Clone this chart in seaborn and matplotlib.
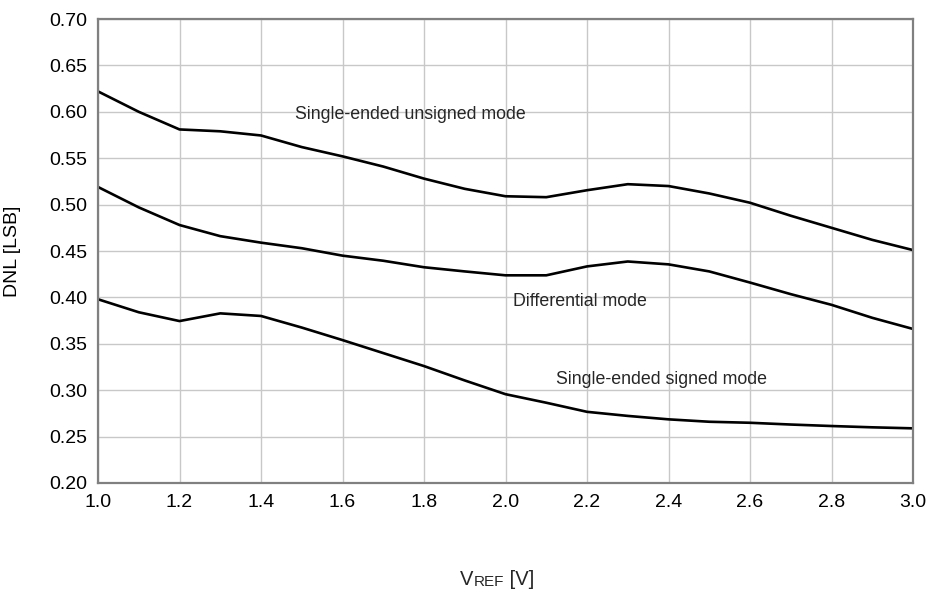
import numpy as np
import pandas as pd
import matplotlib
matplotlib.use("Agg")
import matplotlib.pyplot as plt
import seaborn as sns

vref = [1.0, 1.1, 1.2, 1.3, 1.4, 1.5, 1.6, 1.7, 1.8, 1.9, 2.0,
        2.1, 2.2, 2.3, 2.4, 2.5, 2.6, 2.7, 2.8, 2.9, 3.0]
unsigned_mode = [0.622, 0.600, 0.581, 0.579, 0.5745, 0.562, 0.552, 0.541, 0.528, 0.517, 0.509,
                 0.508, 0.5155, 0.522, 0.520, 0.512, 0.502, 0.488, 0.475, 0.462, 0.451]
differential_mode = [0.519, 0.497, 0.478, 0.466, 0.459, 0.453, 0.445, 0.4395, 0.4325, 0.428, 0.4238,
                     0.4238, 0.4334, 0.4387, 0.4356, 0.428, 0.416, 0.4035, 0.392, 0.378, 0.366]
signed_mode = [0.398, 0.384, 0.3745, 0.3828, 0.380, 0.3675, 0.354, 0.340, 0.326, 0.3105, 0.2957,
               0.2865, 0.2767, 0.2723, 0.2686, 0.266, 0.2649, 0.263, 0.2614, 0.260, 0.2589]
series_names = ["Single-ended unsigned mode", "Differential mode", "Single-ended signed mode"]
x_ticks = [1.0, 1.2, 1.4, 1.6, 1.8, 2.0, 2.2, 2.4, 2.6, 2.8, 3.0]
y_ticks = [0.20, 0.25, 0.30, 0.35, 0.40, 0.45, 0.50, 0.55, 0.60, 0.65, 0.70]

df = pd.DataFrame({
    "VREF": vref * 3,
    "DNL": unsigned_mode + differential_mode + signed_mode,
    "mode": [series_names[0]] * len(vref) + [series_names[1]] * len(vref) + [series_names[2]] * len(vref),
})

sns.set_theme(style="whitegrid")
plt.rcParams["font.family"] = ["Liberation Sans", "DejaVu Sans"]

fig = plt.figure(figsize=(9.29, 5.96), dpi=100)
ax = fig.add_axes([0.1055, 0.1896, 0.8773, 0.7785])

sns.lineplot(data=df, x="VREF", y="DNL", hue="mode",
             palette=["black", "black", "black"], linewidth=1.9,
             legend=False, ax=ax, sort=False)

ax.set_xlim(1.0, 3.0)
ax.set_ylim(0.20, 0.70)
ax.set_xticks(x_ticks)
ax.set_xticklabels([f"{v:.1f}" for v in x_ticks])
ax.set_yticks(y_ticks)
ax.set_yticklabels([f"{v:.2f}" for v in y_ticks])
ax.tick_params(axis="both", labelsize=14, length=0, pad=8, colors="black")
ax.grid(True, color="#c8c8c8", linewidth=1.0)
for s in ax.spines.values():
    s.set_visible(True)
    s.set_color("#808080")
    s.set_linewidth(1.6)
ax.set_facecolor("white")

ax.set_xlabel("")
ax.set_ylabel("")
fig.text(13 / 929, 1 - 251 / 596, "DNL [LSB]", fontsize=14, rotation=90,
         va="center", ha="center", color="black")

ax.text(1.483, 0.597, series_names[0], fontsize=12.8, va="center", ha="left")
ax.text(2.018, 0.396, series_names[1], fontsize=12.8, va="center", ha="left")
ax.text(2.124, 0.312, series_names[2], fontsize=12.8, va="center", ha="left")

# x label: V with small-caps REF
t1 = fig.text(460 / 929, 1 - 589 / 596, "V", fontsize=14.5, va="bottom", ha="left")
t2 = ax.annotate("REF", xy=(1, 0), xycoords=t1, fontsize=11, va="bottom", ha="left",
                 annotation_clip=False)
t3 = ax.annotate(" [V]", xy=(1, 0), xycoords=t2, fontsize=14.5, va="bottom", ha="left",
                 annotation_clip=False)

fig.savefig("out.png", dpi=100, facecolor="white")
